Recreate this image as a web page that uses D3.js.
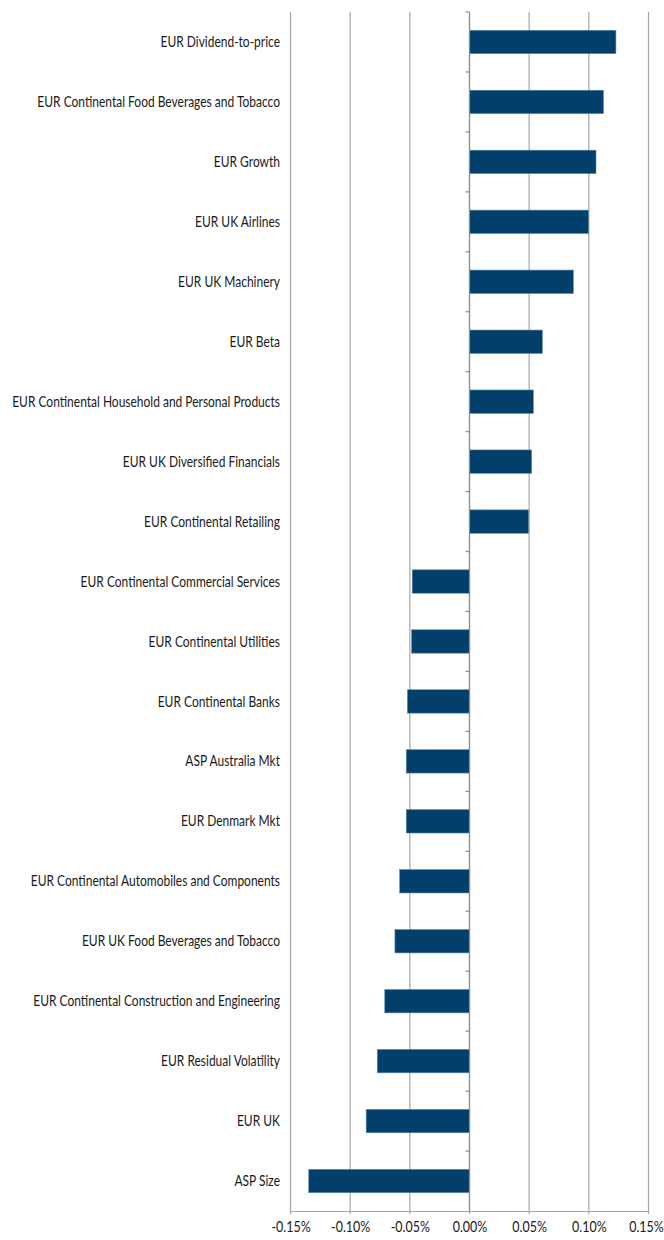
<!DOCTYPE html>
<html>
<head>
<meta charset="UTF-8">
<script src="https://cdn.jsdelivr.net/npm/d3@7"></script>
<style>
  body { margin: 0; background: #fff; }
  svg { display: block; }
  .lbl { font-family: Lato, "Open Sans", sans-serif; font-size: 14.5px; fill: #1a1a1a; }
</style>
</head>
<body>
<div class="chart"></div>
<script>
const factors = [
  'EUR Dividend-to-price',
  'EUR Continental Food Beverages and Tobacco',
  'EUR Growth',
  'EUR UK Airlines',
  'EUR UK Machinery',
  'EUR Beta',
  'EUR Continental Household and Personal Products',
  'EUR UK Diversified Financials',
  'EUR Continental Retailing',
  'EUR Continental Commercial Services',
  'EUR Continental Utilities',
  'EUR Continental Banks',
  'ASP Australia Mkt',
  'EUR Denmark Mkt',
  'EUR Continental Automobiles and Components',
  'EUR UK Food Beverages and Tobacco',
  'EUR Continental Construction and Engineering',
  'EUR Residual Volatility',
  'EUR UK',
  'ASP Size'
];
// contribution in %
const values = [0.1227, 0.1123, 0.1060, 0.0997, 0.0870, 0.0610, 0.0535, 0.0520, 0.0495,
  -0.0480, -0.0485, -0.0520, -0.0530, -0.0530, -0.0585, -0.0625, -0.0710, -0.0773, -0.0866, -0.1347];
const xTicks = [-0.15, -0.10, -0.05, 0, 0.05, 0.10, 0.15];

const W = 664, H = 1240;
const margin = { top: 12, right: 15.5, bottom: 29, left: 290.5 };
const width = W - margin.left - margin.right;
const height = H - margin.top - margin.bottom;

const svg = d3.select('.chart').append('svg').attr('width', W).attr('height', H);
const g = svg.append('g').attr('transform', `translate(${margin.left},${margin.top})`);

const x = d3.scaleLinear().domain([-0.15, 0.15]).range([0, width]);
const y = d3.scaleBand().domain(factors).range([0, height]).paddingInner(0.61).paddingOuter(0.305);

// vertical gridlines
g.selectAll('line.grid').data(xTicks).enter().append('line')
  .attr('x1', d => x(d)).attr('x2', d => x(d))
  .attr('y1', 0).attr('y2', height + 3)
  .attr('stroke', '#a6a6a6').attr('stroke-width', 1.2);

// bottom axis
const xAxis = d3.axisBottom(x).tickValues(xTicks).tickSize(0).tickPadding(0)
  .tickFormat(d => d3.format('.2f')(d).replace('−', '-') + '%');
const xg = g.append('g').attr('transform', `translate(0,${height})`).call(xAxis);
xg.select('.domain').attr('stroke', '#a6a6a6').attr('stroke-width', 1.2);
xg.selectAll('.tick text').attr('class', 'lbl').attr('font-size', null).attr('font-family', null)
  .attr('fill', null).attr('y', null).attr('dy', null)
  .attr('transform', (d, i) => `translate(${i === xTicks.length - 1 ? -2.5 : 0},21) scale(0.86,1)`);

// bars
g.selectAll('rect.bar').data(values).enter().append('rect')
  .attr('x', d => x(Math.min(0, d)))
  .attr('width', d => Math.abs(x(d) - x(0)))
  .attr('y', (d, i) => y(factors[i]))
  .attr('height', y.bandwidth())
  .attr('fill', '#023f6b')
  .attr('stroke', '#5f87a6').attr('stroke-width', 0.6);

// zero axis with category ticks
g.append('line').attr('x1', x(0)).attr('x2', x(0)).attr('y1', 0).attr('y2', height)
  .attr('stroke', '#8c8c8c').attr('stroke-width', 1.2);
const bounds = d3.range(factors.length).map(i => i * y.step());
g.selectAll('line.ctick').data(bounds).enter().append('line')
  .attr('x1', x(0) - 4).attr('x2', x(0))
  .attr('y1', d => d).attr('y2', d => d)
  .attr('stroke', '#8c8c8c').attr('stroke-width', 1.2);

// category labels, squeezed horizontally like the original condensed face
const labels = svg.selectAll('text.cat').data(factors).enter().append('text')
  .attr('class', 'lbl')
  .attr('dy', '0.35em')
  .attr('text-anchor', 'end')
  .text(d => d);
let maxW = 0;
labels.each(function () { maxW = Math.max(maxW, this.getComputedTextLength()); });
const sx = Math.min(1, 268 / maxW);
labels.attr('transform', d => `translate(280,${margin.top + y(d) + y.bandwidth() / 2}) scale(${sx},1)`);
</script>
</body>
</html>
